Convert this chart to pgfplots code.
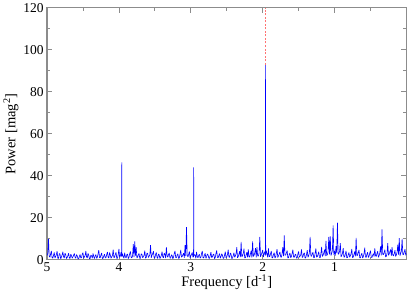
\documentclass[border=0pt]{standalone}
\usepackage{pgfplots}
\pgfplotsset{compat=1.18}
\usepackage{fontspec}
\setmainfont{Liberation Serif}
\begin{document}
\begin{tikzpicture}
\begin{axis}[
  scale only axis, width=358bp, height=251bp,
  x dir=reverse, xmin=0, xmax=5, ymin=0, ymax=120,
  xtick={1,2,3,4,5}, minor xtick={0.5,1.5,2.5,3.5,4.5},
  ytick={0,20,...,120}, minor ytick={10,30,...,110},
  tick align=inside, major tick length=5bp, minor tick length=3bp,
  axis line style={gray!90, line width=1.1bp},
  every tick/.style={gray!90, line width=0.8bp},
  tick label style={font=\fontsize{13.5}{15}\selectfont},
  label style={font=\fontsize{14.5}{16}\selectfont},
  /pgf/number format/assume math mode=true,
  xlabel={Frequency [d\textsuperscript{-1}]},
  ylabel={Power [mag\textsuperscript{2}]},
  xlabel style={yshift=4bp},
  ylabel style={yshift=-2bp},
  xticklabel style={yshift=1bp},
]
\addplot[blue, line width=0.6bp, line join=bevel] coordinates {
(5.00,2.1) (4.99,3.0) (4.98,10.0) (4.97,1.8) (4.96,1.2) (4.95,2.9) (4.94,4.3) (4.93,1.1) (4.92,0.8) (4.91,2.2)
(4.90,3.5) (4.89,0.9) (4.88,1.6) (4.87,2.6) (4.86,4.1) (4.85,0.7) (4.84,0.7) (4.83,3.0) (4.82,2.8) (4.81,0.5)
(4.80,1.3) (4.79,2.4) (4.78,3.9) (4.77,1.4) (4.76,0.9) (4.75,3.2) (4.74,2.4) (4.73,0.6) (4.72,1.1) (4.71,2.0)
(4.70,3.2) (4.69,1.0) (4.68,0.6) (4.67,2.7) (4.66,2.0) (4.65,0.8) (4.64,1.4) (4.63,2.3) (4.62,3.0) (4.61,1.2)
(4.60,0.8) (4.59,2.5) (4.58,1.9) (4.57,0.6) (4.56,0.5) (4.55,1.7) (4.54,2.6) (4.53,0.9) (4.52,1.0) (4.51,2.8)
(4.50,3.4) (4.49,0.7) (4.48,1.5) (4.47,2.1) (4.46,4.2) (4.45,1.3) (4.44,0.9) (4.43,3.1) (4.42,2.2) (4.41,0.5)
(4.40,0.7) (4.39,2.3) (4.38,1.8) (4.37,0.8) (4.36,3.1) (4.35,1.5) (4.34,0.6) (4.33,2.0) (4.32,2.5) (4.31,0.7)
(4.30,1.2) (4.29,2.9) (4.28,4.6) (4.27,1.1) (4.26,1.0) (4.25,2.4) (4.24,3.3) (4.23,0.6) (4.22,0.8) (4.21,1.9)
(4.20,2.7) (4.19,0.9) (4.18,1.1) (4.17,2.6) (4.16,3.8) (4.15,1.2) (4.14,0.9) (4.13,3.5) (4.12,2.3) (4.11,0.8)
(4.10,1.4) (4.09,2.2) (4.08,4.9) (4.07,1.0) (4.06,1.3) (4.05,2.7) (4.04,3.6) (4.03,0.7) (4.02,0.8) (4.01,2.5)
(4.00,5.2) (3.99,1.1) (3.98,2.0) (3.97,3.6) (3.962,1.5) (3.96,46.4) (3.958,1.6) (3.95,2.9) (3.94,1.6) (3.93,0.8) (3.92,3.4) (3.91,1.4)
(3.90,0.9) (3.89,2.5) (3.88,2.8) (3.87,0.6) (3.86,1.2) (3.85,3.0) (3.84,4.0) (3.83,1.2) (3.82,1.0) (3.81,2.0)
(3.80,7.5) (3.79,1.3) (3.78,8.8) (3.77,2.0) (3.76,6.0) (3.75,0.9) (3.74,1.3) (3.73,2.4) (3.72,3.1) (3.71,0.7)
(3.70,0.8) (3.69,2.9) (3.68,2.6) (3.67,1.0) (3.66,1.5) (3.65,2.2) (3.64,4.4) (3.63,0.8) (3.62,1.1) (3.61,3.3)
(3.60,3.0) (3.59,1.1) (3.58,1.7) (3.57,2.5) (3.56,7.0) (3.55,1.0) (3.54,2.2) (3.53,3.0) (3.52,4.1) (3.51,0.9)
(3.50,1.0) (3.49,2.6) (3.48,3.5) (3.47,1.2) (3.46,0.7) (3.45,2.8) (3.44,2.4) (3.43,0.6) (3.42,1.3) (3.41,2.1)
(3.40,3.9) (3.39,1.4) (3.38,1.0) (3.37,3.2) (3.36,2.7) (3.35,0.8) (3.34,6.0) (3.33,2.0) (3.32,1.2) (3.31,2.6)
(3.30,3.3) (3.29,0.9) (3.28,0.8) (3.27,2.4) (3.26,2.1) (3.25,0.5) (3.24,1.4) (3.23,3.0) (3.22,4.3) (3.21,1.1)
(3.20,1.0) (3.19,2.3) (3.18,2.9) (3.17,0.7) (3.16,0.9) (3.15,2.7) (3.14,4.7) (3.13,1.3) (3.12,1.6) (3.11,2.4)
(3.10,3.2) (3.09,1.0) (3.08,7.0) (3.07,1.8) (3.06,15.6) (3.05,2.2) (3.04,1.4) (3.03,2.6) (3.02,4.0) (3.01,0.9)
(3.00,1.8) (2.99,2.7) (2.98,3.5) (2.97,1.2) (2.962,1.5) (2.96,44.0) (2.958,1.8) (2.95,2.5) (2.94,2.3) (2.93,0.7) (2.92,3.8) (2.91,1.6)
(2.90,1.0) (2.89,2.2) (2.88,2.6) (2.87,0.8) (2.86,1.2) (2.85,3.1) (2.84,4.2) (2.83,1.0) (2.82,0.9) (2.81,2.3)
(2.80,3.1) (2.79,0.7) (2.78,1.5) (2.77,2.8) (2.76,2.4) (2.75,0.9) (2.74,0.7) (2.73,2.0) (2.72,3.7) (2.71,1.1)
(2.70,1.3) (2.69,2.5) (2.68,2.8) (2.67,0.6) (2.66,1.1) (2.65,3.0) (2.64,4.5) (2.63,1.2) (2.62,1.0) (2.61,2.1)
(2.60,3.0) (2.59,0.8) (2.58,1.6) (2.57,2.9) (2.56,2.2) (2.55,0.7) (2.54,0.8) (2.53,2.4) (2.52,3.9) (2.51,1.0)
(2.50,1.4) (2.49,2.6) (2.48,4.8) (2.47,1.3) (2.46,1.2) (2.45,3.3) (2.44,2.7) (2.43,0.6) (2.42,0.9) (2.41,2.0)
(2.40,3.4) (2.39,1.2) (2.38,1.8) (2.37,3.0) (2.36,6.0) (2.35,1.0) (2.34,1.5) (2.33,2.8) (2.32,4.1) (2.31,1.3)
(2.30,8.5) (2.29,1.4) (2.28,2.0) (2.27,3.1) (2.26,5.3) (2.25,0.9) (2.24,1.1) (2.23,2.5) (2.22,3.6) (2.21,1.2)
(2.20,5.0) (2.19,1.5) (2.18,1.3) (2.17,2.9) (2.16,4.4) (2.15,1.1) (2.14,8.8) (2.13,1.6) (2.12,2.1) (2.11,3.4)
(2.10,5.6) (2.09,1.2) (2.08,6.0) (2.07,1.9) (2.06,1.8) (2.05,3.2) (2.04,11.0) (2.03,1.5) (2.02,2.4) (2.01,3.5)
(2.00,4.7) (1.99,1.3) (1.98,3.0) (1.97,4.0) (1.962,2.0) (1.96,93.0) (1.958,2.5) (1.95,4.4) (1.94,2.8) (1.93,1.2) (1.92,5.5) (1.91,1.5)
(1.90,1.6) (1.89,3.0) (1.88,4.2) (1.87,1.0) (1.86,1.0) (1.85,2.6) (1.84,3.4) (1.83,0.9) (1.82,1.3) (1.81,3.2)
(1.80,5.1) (1.79,1.1) (1.78,1.9) (1.77,2.8) (1.76,3.8) (1.75,1.4) (1.74,1.2) (1.73,3.0) (1.72,6.0) (1.71,1.8)
(1.70,11.6) (1.69,2.2) (1.68,2.3) (1.67,3.3) (1.66,4.5) (1.65,0.9) (1.64,1.0) (1.63,2.7) (1.62,3.2) (1.61,1.0)
(1.60,1.6) (1.59,3.1) (1.58,4.9) (1.57,1.3) (1.56,1.2) (1.55,2.4) (1.54,2.7) (1.53,0.8) (1.52,0.9) (1.51,2.9)
(1.50,4.0) (1.49,1.2) (1.48,1.8) (1.47,2.5) (1.46,5.0) (1.45,1.1) (1.44,1.4) (1.43,3.0) (1.42,3.3) (1.41,0.8)
(1.40,1.1) (1.39,2.7) (1.38,4.6) (1.37,1.2) (1.36,2.0) (1.35,3.4) (1.34,11.0) (1.33,1.9) (1.32,1.7) (1.31,2.9)
(1.30,3.6) (1.29,1.0) (1.28,1.2) (1.27,3.2) (1.26,5.4) (1.25,1.3) (1.24,1.5) (1.23,2.6) (1.22,3.9) (1.21,1.2)
(1.20,1.0) (1.19,3.0) (1.18,6.2) (1.17,1.6) (1.16,2.2) (1.15,3.3) (1.14,4.8) (1.13,1.8) (1.12,9.0) (1.11,2.0)
(1.10,2.5) (1.09,3.9) (1.08,11.0) (1.07,2.6) (1.06,11.2) (1.05,2.1) (1.04,3.1) (1.03,4.5) (1.02,16.4) (1.01,2.4)
(1.00,4.2) (0.99,2.0) (0.98,6.5) (0.97,3.2) (0.96,17.7) (0.95,2.6) (0.94,3.0) (0.93,4.1) (0.92,8.0) (0.91,1.5)
(0.90,2.1) (0.89,3.2) (0.88,5.6) (0.87,1.3) (0.86,1.4) (0.85,2.8) (0.84,4.3) (0.83,1.0) (0.82,1.1) (0.81,2.5)
(0.80,3.5) (0.79,1.2) (0.78,2.0) (0.77,3.0) (0.76,5.2) (0.75,1.1) (0.74,1.3) (0.73,2.6) (0.72,4.0) (0.71,1.7)
(0.70,10.5) (0.69,1.9) (0.68,2.2) (0.67,3.5) (0.66,4.7) (0.65,1.0) (0.64,1.0) (0.63,2.4) (0.62,3.2) (0.61,0.9)
(0.60,1.5) (0.59,3.0) (0.58,5.8) (0.57,1.4) (0.56,1.2) (0.55,2.7) (0.54,3.6) (0.53,1.1) (0.52,1.8) (0.51,3.3)
(0.50,4.4) (0.49,1.3) (0.48,1.1) (0.47,2.2) (0.46,3.0) (0.45,1.6) (0.44,5.5) (0.43,2.0) (0.42,1.6) (0.41,3.1)
(0.40,4.1) (0.39,1.2) (0.38,2.0) (0.37,3.4) (0.36,6.4) (0.35,2.1) (0.34,14.5) (0.33,2.7) (0.32,2.5) (0.31,3.6)
(0.30,4.9) (0.29,1.4) (0.28,1.7) (0.27,3.1) (0.26,8.0) (0.25,2.2) (0.24,2.8) (0.23,3.9) (0.22,5.0) (0.21,1.9)
(0.20,6.0) (0.19,2.3) (0.18,1.9) (0.17,3.0) (0.16,4.6) (0.15,1.6) (0.14,2.3) (0.13,3.8) (0.12,7.2) (0.11,2.5)
(0.10,10.4) (0.09,2.0) (0.08,3.1) (0.07,4.2) (0.06,10.0) (0.05,2.4) (0.04,2.6) (0.03,3.7) (0.02,5.1) (0.01,2.2)
(0.00,3.0)
};
\addplot[red!55, dash pattern=on 2bp off 1.5bp, line width=0.6bp] coordinates {(1.96,93) (1.96,120)};
\end{axis}
\end{tikzpicture}
\end{document}
